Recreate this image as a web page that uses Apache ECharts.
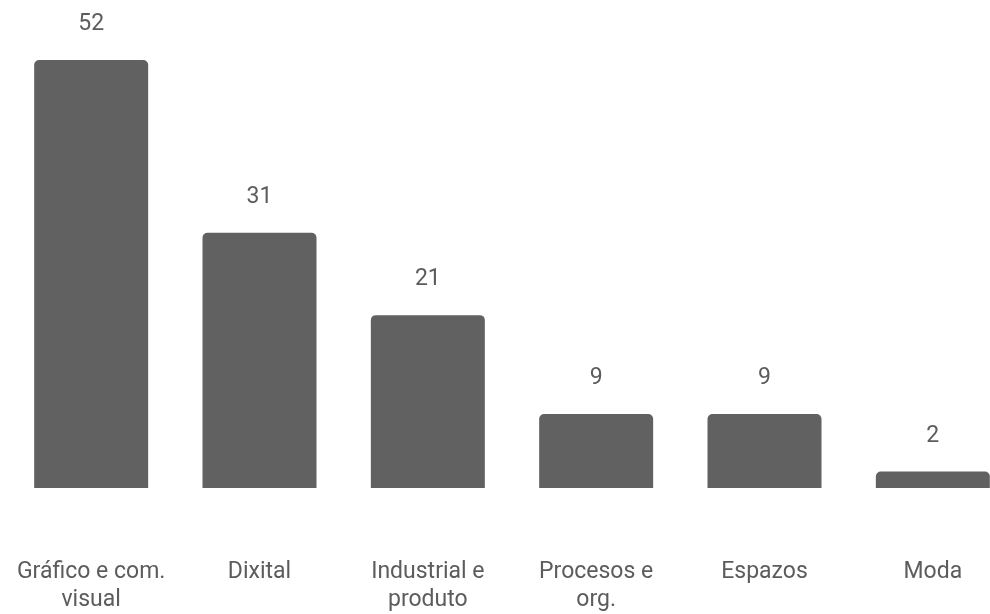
<!DOCTYPE html>
<html>
<head>
<meta charset="utf-8">
<script src="https://cdn.jsdelivr.net/npm/echarts@6/dist/echarts.min.js"></script>
<style>
  html, body { margin: 0; padding: 0; background: #fff; }
  #chart { width: 990px; height: 614px; }
</style>
</head>
<body>
<div id="chart"></div>
<script>
// Design specialisations and their counts
const categories = [
  'Gráfico e com.\nvisual',
  'Dixital',
  'Industrial e\nproduto',
  'Procesos e\norg.',
  'Espazos',
  'Moda'
];
const counts = [52, 31, 21, 9, 9, 2];

const chart = echarts.init(document.getElementById('chart'));
chart.setOption({
  animation: false,
  textStyle: { fontFamily: 'Roboto' },
  grid: {
    left: 7, right: -27, top: 60, bottom: 126,
    containLabel: false, outerBoundsMode: 'none'
  },
  xAxis: {
    type: 'category',
    data: categories,
    axisLine: { show: false },
    axisTick: { show: false },
    axisLabel: {
      margin: 70,
      fontSize: 23,
      lineHeight: 28,
      fontWeight: 'normal',
      color: '#5c5c5c',
      interval: 0,
      fontFamily: 'Roboto'
    }
  },
  yAxis: {
    type: 'value',
    min: 0,
    max: 52,
    show: false,
    splitLine: { show: false }
  },
  series: [{
    type: 'bar',
    data: counts,
    barWidth: 114,
    itemStyle: { color: '#616161', borderRadius: [5, 5, 0, 0] },
    label: {
      show: true,
      position: 'top',
      distance: 24,
      fontSize: 23,
      fontWeight: 'normal',
      color: '#5c5c5c',
      fontFamily: 'Roboto'
    }
  }]
});
</script>
</body>
</html>
